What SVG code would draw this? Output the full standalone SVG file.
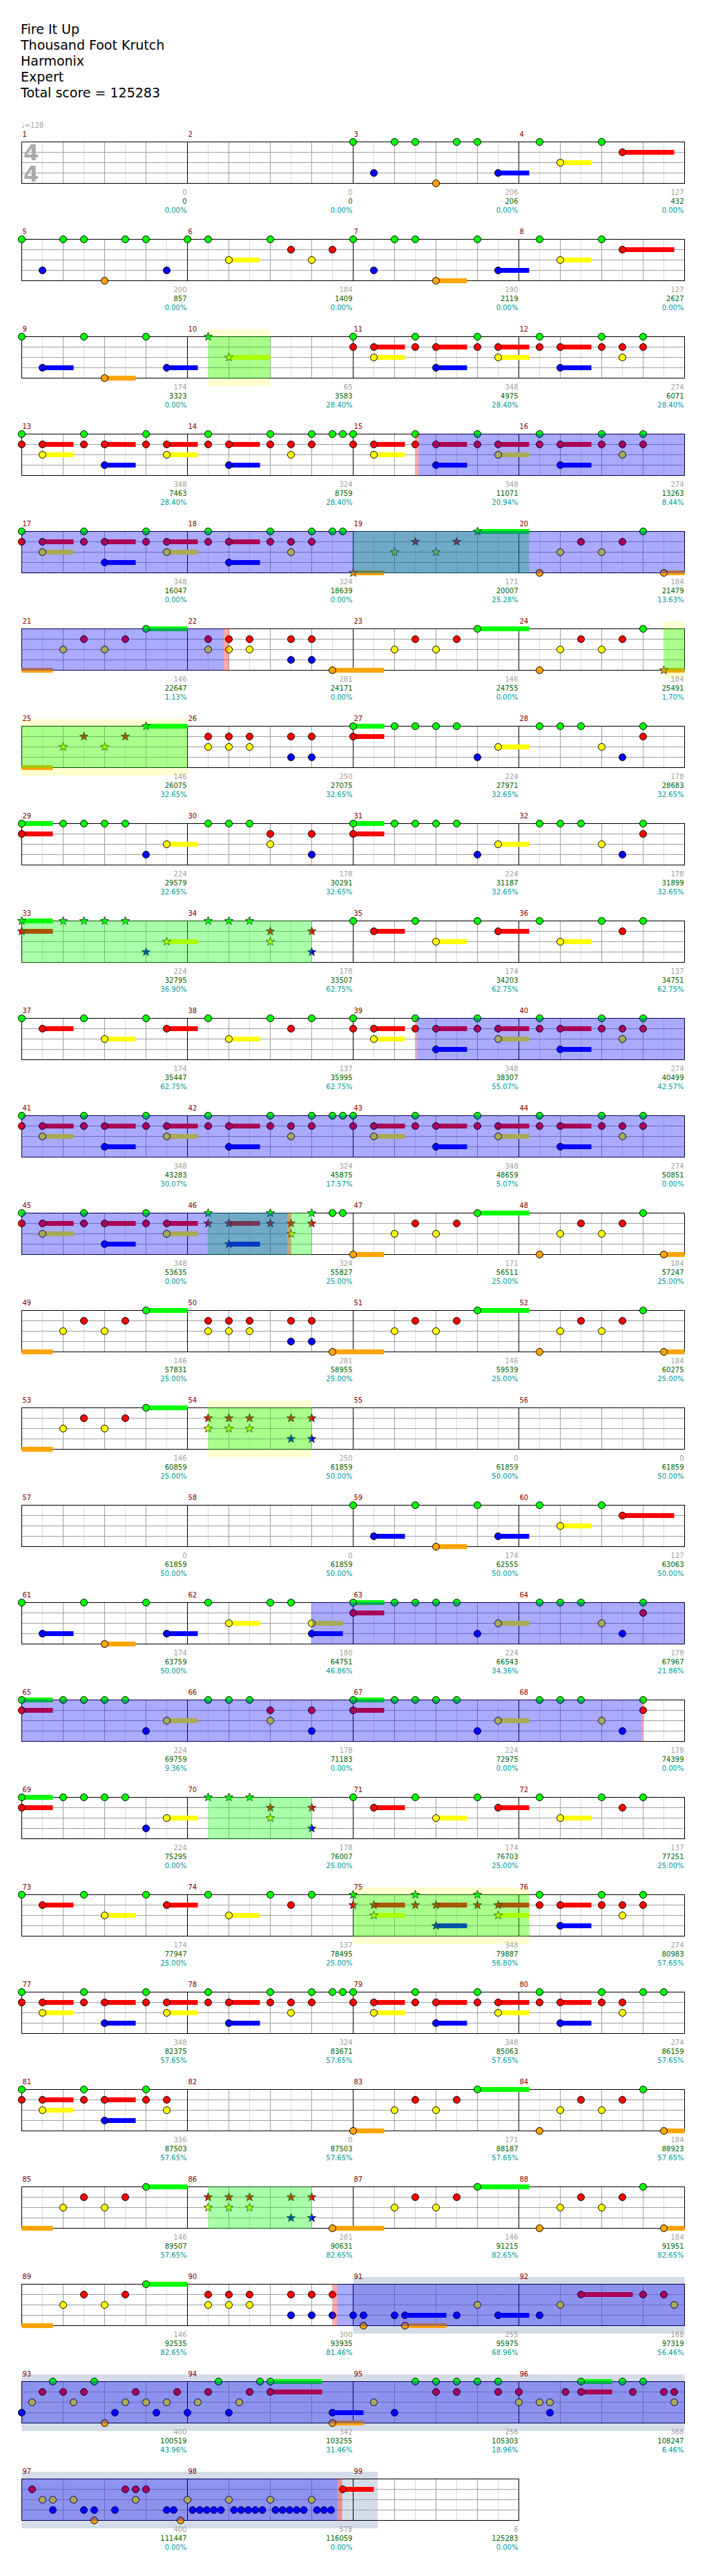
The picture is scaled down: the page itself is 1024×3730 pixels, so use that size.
<svg xmlns="http://www.w3.org/2000/svg" width="1024" height="3730" viewBox="0 0 1024 3730">
<style>
text{font-family:"DejaVu Sans",Verdana,sans-serif}
.t text{font-size:19px;fill:#000}
.tempo{font-size:10px;fill:#a0a0a0}
.ts{font-size:32px;font-weight:bold;fill:#aaa}
.mn{font-size:10px;fill:#800000}
.lb{font-size:10px;text-anchor:end}
.l1{fill:#a0a0a0}.l2{fill:#006400}.l3{fill:#009999}
circle{stroke:#000;stroke-width:1}
.g{fill:#00ff00}.r{fill:#ff0000}.y{fill:#ffff00}.b{fill:#0000ff}.o{fill:#ffa500}
.s{fill:none;stroke-width:7}
.SG{stroke:#00ff00}.SR{stroke:#ff0000}.SY{stroke:#ffff00}.SB{stroke:#0000ff}.SO{stroke:#ffa500}
.lt{stroke:#dcdcdc;fill:none}.dk{stroke:#a0a0a0;fill:none}.bk{stroke:#000;fill:none}
.sp{fill:#00ff00;fill-opacity:.333}.od{fill:#0000ff;fill-opacity:.333}.sx{fill:#ff0000;fill-opacity:.333}
.yb{fill:#ffffd0}.gb{fill:#d4dce8}
</style>
<defs>
<path id="st" d="M0-6.5L1.53-2.1L6.18-2.01L2.47.8L3.82 5.26L0 2.6L-3.82 5.26L-2.47.8L-6.18-2.01L-1.53-2.1Z" stroke="#000" stroke-width=".7"/>
<g id="grid4">
<path class="lt" d="M61.5 0V60M121.5 0V60M181.5 0V60M241.5 0V60M301.5 0V60M361.5 0V60M421.5 0V60M481.5 0V60M541.5 0V60M601.5 0V60M661.5 0V60M721.5 0V60M781.5 0V60M841.5 0V60M901.5 0V60M961.5 0V60"/>
<path class="dk" d="M91.5 0V60M151.5 0V60M211.5 0V60M331.5 0V60M391.5 0V60M451.5 0V60M571.5 0V60M631.5 0V60M691.5 0V60M811.5 0V60M871.5 0V60M931.5 0V60M31.5 15H991.5M31.5 30H991.5M31.5 45H991.5"/>
<path class="bk" d="M271.5 0V60M511.5 0V60M751.5 0V60"/>
<rect class="bk" x="31.5" y="0" width="960" height="60"/>
</g>
<g id="grid3">
<path class="lt" d="M61.5 0V60M121.5 0V60M181.5 0V60M241.5 0V60M301.5 0V60M361.5 0V60M421.5 0V60M481.5 0V60M541.5 0V60M601.5 0V60M661.5 0V60M721.5 0V60"/>
<path class="dk" d="M91.5 0V60M151.5 0V60M211.5 0V60M331.5 0V60M391.5 0V60M451.5 0V60M571.5 0V60M631.5 0V60M691.5 0V60M31.5 15H751.5M31.5 30H751.5M31.5 45H751.5"/>
<path class="bk" d="M271.5 0V60M511.5 0V60"/>
<rect class="bk" x="31.5" y="0" width="720" height="60"/>
</g>
<g id="P13">
<path class="s SR" d="M30 15h45M120 15h45M210 15h45"/><path class="s SY" d="M30 30h45M210 30h45"/><path class="s SB" d="M120 45h45"/>
<circle class="g" cx="0" cy="0" r="5"/><circle class="g" cx="90" cy="0" r="5"/><circle class="g" cx="180" cy="0" r="5"/>
<circle class="r" cx="0" cy="15" r="5"/><circle class="r" cx="30" cy="15" r="5"/><circle class="r" cx="90" cy="15" r="5"/><circle class="r" cx="120" cy="15" r="5"/><circle class="r" cx="180" cy="15" r="5"/><circle class="r" cx="210" cy="15" r="5"/>
<circle class="y" cx="30" cy="30" r="5"/><circle class="y" cx="210" cy="30" r="5"/>
<circle class="b" cx="120" cy="45" r="5"/>
</g>
<g id="P13s">
<path class="s SR" d="M30 15h45M120 15h45M210 15h45"/><path class="s SY" d="M30 30h45M210 30h45"/><path class="s SB" d="M120 45h45"/>
<use href="#st" class="g" x="0" y="0"/><use href="#st" class="g" x="90" y="0"/><use href="#st" class="g" x="180" y="0"/>
<use href="#st" class="r" x="0" y="15"/><use href="#st" class="r" x="30" y="15"/><use href="#st" class="r" x="90" y="15"/><use href="#st" class="r" x="120" y="15"/><use href="#st" class="r" x="180" y="15"/><use href="#st" class="r" x="210" y="15"/>
<use href="#st" class="y" x="30" y="30"/><use href="#st" class="y" x="210" y="30"/>
<use href="#st" class="b" x="120" y="45"/>
</g>
<g id="P12">
<path class="s SR" d="M60 15h45"/><path class="s SB" d="M60 45h45"/>
<circle class="g" cx="30" cy="0" r="5"/><circle class="g" cx="120" cy="0" r="5"/><circle class="g" cx="180" cy="0" r="5"/>
<circle class="r" cx="30" cy="15" r="5"/><circle class="r" cx="60" cy="15" r="5"/><circle class="r" cx="120" cy="15" r="5"/><circle class="r" cx="150" cy="15" r="5"/><circle class="r" cx="180" cy="15" r="5"/>
<circle class="y" cx="150" cy="30" r="5"/>
<circle class="b" cx="60" cy="45" r="5"/>
</g>
<g id="P14"><use href="#P12"/><circle class="g" cx="210" cy="0" r="5"/><circle class="g" cx="225" cy="0" r="5"/></g>
<g id="PA">
<path class="s SG" d="M0 0h45"/><path class="s SR" d="M0 15h45"/><path class="s SY" d="M210 30h45"/>
<circle class="g" cx="0" cy="0" r="5"/><circle class="g" cx="60" cy="0" r="5"/><circle class="g" cx="90" cy="0" r="5"/><circle class="g" cx="120" cy="0" r="5"/><circle class="g" cx="150" cy="0" r="5"/>
<circle class="r" cx="0" cy="15" r="5"/><circle class="b" cx="180" cy="45" r="5"/><circle class="y" cx="210" cy="30" r="5"/>
</g>
<g id="PAs">
<path class="s SG" d="M0 0h45"/><path class="s SR" d="M0 15h45"/><path class="s SY" d="M210 30h45"/>
<use href="#st" class="g" x="0" y="0"/><use href="#st" class="g" x="60" y="0"/><use href="#st" class="g" x="90" y="0"/><use href="#st" class="g" x="120" y="0"/><use href="#st" class="g" x="150" y="0"/>
<use href="#st" class="r" x="0" y="15"/><use href="#st" class="b" x="180" y="45"/><use href="#st" class="y" x="210" y="30"/>
</g>
<g id="PB">
<circle class="g" cx="30" cy="0" r="5"/><circle class="g" cx="60" cy="0" r="5"/><circle class="g" cx="90" cy="0" r="5"/>
<circle class="r" cx="120" cy="15" r="5"/><circle class="y" cx="120" cy="30" r="5"/><circle class="r" cx="180" cy="15" r="5"/><circle class="b" cx="180" cy="45" r="5"/>
</g>
<g id="PBs">
<use href="#st" class="g" x="30" y="0"/><use href="#st" class="g" x="60" y="0"/><use href="#st" class="g" x="90" y="0"/>
<use href="#st" class="r" x="120" y="15"/><use href="#st" class="y" x="120" y="30"/><use href="#st" class="r" x="180" y="15"/><use href="#st" class="b" x="180" y="45"/>
</g>
<g id="PC">
<circle class="g" cx="30" cy="0" r="5"/><circle class="g" cx="60" cy="0" r="5"/><circle class="g" cx="90" cy="0" r="5"/><circle class="g" cx="180" cy="0" r="5"/>
<circle class="r" cx="180" cy="15" r="5"/><circle class="y" cx="120" cy="30" r="5"/><circle class="b" cx="150" cy="45" r="5"/>
</g>
<g id="PD">
<path class="s SR" d="M30 15h45M210 15h45"/><path class="s SY" d="M120 30h45"/>
<circle class="g" cx="0" cy="0" r="5"/><circle class="g" cx="90" cy="0" r="5"/><circle class="g" cx="180" cy="0" r="5"/>
<circle class="r" cx="30" cy="15" r="5"/><circle class="r" cx="210" cy="15" r="5"/><circle class="y" cx="120" cy="30" r="5"/>
</g>
<g id="PE">
<path class="s SY" d="M60 30h45"/>
<circle class="g" cx="30" cy="0" r="5"/><circle class="g" cx="120" cy="0" r="5"/><circle class="g" cx="180" cy="0" r="5"/>
<circle class="y" cx="60" cy="30" r="5"/><circle class="r" cx="150" cy="15" r="5"/>
</g>
<g id="PF">
<path class="s SO" d="M0 60h45"/><path class="s SG" d="M180 0h60"/>
<circle class="y" cx="60" cy="30" r="5"/><circle class="r" cx="90" cy="15" r="5"/><circle class="y" cx="120" cy="30" r="5"/><circle class="r" cx="150" cy="15" r="5"/><circle class="g" cx="180" cy="0" r="5"/>
</g>
<g id="PG">
<circle class="r" cx="30" cy="15" r="5"/><circle class="r" cx="60" cy="15" r="5"/><circle class="r" cx="90" cy="15" r="5"/><circle class="r" cx="150" cy="15" r="5"/><circle class="r" cx="180" cy="15" r="5"/>
<circle class="y" cx="30" cy="30" r="5"/><circle class="y" cx="60" cy="30" r="5"/><circle class="y" cx="90" cy="30" r="5"/>
<circle class="b" cx="150" cy="45" r="5"/><circle class="b" cx="180" cy="45" r="5"/>
</g>
<g id="PGs">
<use href="#st" class="r" x="30" y="15"/><use href="#st" class="r" x="60" y="15"/><use href="#st" class="r" x="90" y="15"/><use href="#st" class="r" x="150" y="15"/><use href="#st" class="r" x="180" y="15"/>
<use href="#st" class="y" x="30" y="30"/><use href="#st" class="y" x="60" y="30"/><use href="#st" class="y" x="90" y="30"/>
<use href="#st" class="b" x="150" y="45"/><use href="#st" class="b" x="180" y="45"/>
</g>
<g id="PGo"><path class="s SO" d="M210 60h75"/><use href="#PG"/><circle class="o" cx="210" cy="60" r="5"/></g>
<g id="PH">
<path class="s SG" d="M180 0h75"/>
<circle class="y" cx="60" cy="30" r="5"/><circle class="r" cx="90" cy="15" r="5"/><circle class="y" cx="120" cy="30" r="5"/><circle class="r" cx="150" cy="15" r="5"/><circle class="g" cx="180" cy="0" r="5"/>
</g>
<g id="PHo"><path class="s SO" d="M0 60h45"/><use href="#PH"/><circle class="o" cx="0" cy="60" r="5"/></g>
<g id="PI">
<path class="s SO" d="M210 60h30"/>
<circle class="o" cx="30" cy="60" r="5"/><circle class="y" cx="60" cy="30" r="5"/><circle class="r" cx="90" cy="15" r="5"/><circle class="y" cx="120" cy="30" r="5"/><circle class="r" cx="150" cy="15" r="5"/><circle class="g" cx="180" cy="0" r="5"/><circle class="o" cx="210" cy="60" r="5"/>
</g>
<g id="M9">
<path class="s SB" d="M30 45h45M210 45h45"/><path class="s SO" d="M120 60h45"/>
<circle class="g" cx="0" cy="0" r="5"/><circle class="g" cx="90" cy="0" r="5"/><circle class="g" cx="180" cy="0" r="5"/>
<circle class="b" cx="30" cy="45" r="5"/><circle class="o" cx="120" cy="60" r="5"/><circle class="b" cx="210" cy="45" r="5"/>
</g>
<g id="M4">
<path class="s SY" d="M60 30h45"/><path class="s SR" d="M150 15h75"/>
<circle class="g" cx="30" cy="0" r="5"/><circle class="g" cx="120" cy="0" r="5"/><circle class="y" cx="60" cy="30" r="5"/><circle class="r" cx="150" cy="15" r="5"/>
</g>
</defs>
<rect width="1024" height="3730" fill="#fff"/>
<g id="header" class="t">
<text x="30" y="49">Fire It Up</text>
<text x="30" y="72">Thousand Foot Krutch</text>
<text x="30" y="95">Harmonix</text>
<text x="30" y="118">Expert</text>
<text x="30" y="141">Total score = 125283</text>
</g>
<text class="tempo" x="31" y="185">♩=128</text>

<g id="row1" transform="translate(0,205.5)">
<use href="#grid4"/>
<text class="ts" x="34" y="26.5">4<tspan x="34" y="57">4</tspan></text>
<g transform="translate(511.5,0)"><path class="s SB" d="M210 45h45"/>
<circle class="g" cx="0" cy="0" r="5"/><circle class="g" cx="60" cy="0" r="5"/><circle class="g" cx="90" cy="0" r="5"/><circle class="g" cx="150" cy="0" r="5"/><circle class="g" cx="180" cy="0" r="5"/>
<circle class="b" cx="30" cy="45" r="5"/><circle class="o" cx="120" cy="60" r="5"/><circle class="b" cx="210" cy="45" r="5"/></g>
<use href="#M4" x="751.5"/>
<text class="mn" x="32.5" y="-8">1</text><text class="mn" x="272.5" y="-8">2</text><text class="mn" x="512.5" y="-8">3</text><text class="mn" x="752.5" y="-8">4</text>
<text class="lb" x="270.5" y="76"><tspan class="l1">0</tspan><tspan class="l2" x="270.5" dy="13">0</tspan><tspan class="l3" x="270.5" dy="13">0.00%</tspan></text>
<text class="lb" x="510.5" y="76"><tspan class="l1">0</tspan><tspan class="l2" x="510.5" dy="13">0</tspan><tspan class="l3" x="510.5" dy="13">0.00%</tspan></text>
<text class="lb" x="750.5" y="76"><tspan class="l1">206</tspan><tspan class="l2" x="750.5" dy="13">206</tspan><tspan class="l3" x="750.5" dy="13">0.00%</tspan></text>
<text class="lb" x="990.5" y="76"><tspan class="l1">127</tspan><tspan class="l2" x="990.5" dy="13">432</tspan><tspan class="l3" x="990.5" dy="13">0.00%</tspan></text>
</g>

<g id="row2" transform="translate(0,346.5)">
<use href="#grid4"/>
<g transform="translate(31.5,0)">
<circle class="g" cx="0" cy="0" r="5"/><circle class="g" cx="60" cy="0" r="5"/><circle class="g" cx="90" cy="0" r="5"/><circle class="g" cx="150" cy="0" r="5"/><circle class="g" cx="180" cy="0" r="5"/>
<circle class="b" cx="30" cy="45" r="5"/><circle class="o" cx="120" cy="60" r="5"/><circle class="b" cx="210" cy="45" r="5"/></g>
<g transform="translate(271.5,0)"><path class="s SY" d="M60 30h45"/>
<circle class="g" cx="0" cy="0" r="5"/><circle class="g" cx="30" cy="0" r="5"/><circle class="g" cx="120" cy="0" r="5"/>
<circle class="y" cx="60" cy="30" r="5"/><circle class="r" cx="150" cy="15" r="5"/><circle class="y" cx="180" cy="30" r="5"/><circle class="r" cx="210" cy="15" r="5"/></g>
<g transform="translate(511.5,0)"><path class="s SO" d="M120 60h45"/><path class="s SB" d="M210 45h45"/>
<circle class="g" cx="0" cy="0" r="5"/><circle class="g" cx="60" cy="0" r="5"/><circle class="g" cx="90" cy="0" r="5"/><circle class="g" cx="180" cy="0" r="5"/>
<circle class="b" cx="30" cy="45" r="5"/><circle class="o" cx="120" cy="60" r="5"/><circle class="b" cx="210" cy="45" r="5"/></g>
<use href="#M4" x="751.5"/>
<text class="mn" x="32.5" y="-8">5</text><text class="mn" x="272.5" y="-8">6</text><text class="mn" x="512.5" y="-8">7</text><text class="mn" x="752.5" y="-8">8</text>
<text class="lb" x="270.5" y="76"><tspan class="l1">200</tspan><tspan class="l2" x="270.5" dy="13">857</tspan><tspan class="l3" x="270.5" dy="13">0.00%</tspan></text>
<text class="lb" x="510.5" y="76"><tspan class="l1">184</tspan><tspan class="l2" x="510.5" dy="13">1409</tspan><tspan class="l3" x="510.5" dy="13">0.00%</tspan></text>
<text class="lb" x="750.5" y="76"><tspan class="l1">190</tspan><tspan class="l2" x="750.5" dy="13">2119</tspan><tspan class="l3" x="750.5" dy="13">0.00%</tspan></text>
<text class="lb" x="990.5" y="76"><tspan class="l1">127</tspan><tspan class="l2" x="990.5" dy="13">2627</tspan><tspan class="l3" x="990.5" dy="13">0.00%</tspan></text>
</g>

<g id="row3" transform="translate(0,487.5)">
<rect class="yb" x="301.5" y="-10.5" width="90" height="82"/>
<use href="#grid4"/>
<use href="#M9" x="31.5"/>
<g transform="translate(271.5,0)"><path class="s SY" d="M60 30h60"/><use href="#st" class="g" x="30" y="0"/><use href="#st" class="y" x="60" y="30"/></g>
<use href="#P13" x="511.5"/><use href="#P12" x="751.5"/>
<rect class="sp" x="301.5" y="-.5" width="90" height="61"/>
<text class="mn" x="32.5" y="-8">9</text><text class="mn" x="272.5" y="-8">10</text><text class="mn" x="512.5" y="-8">11</text><text class="mn" x="752.5" y="-8">12</text>
<text class="lb" x="270.5" y="76"><tspan class="l1">174</tspan><tspan class="l2" x="270.5" dy="13">3323</tspan><tspan class="l3" x="270.5" dy="13">0.00%</tspan></text>
<text class="lb" x="510.5" y="76"><tspan class="l1">65</tspan><tspan class="l2" x="510.5" dy="13">3583</tspan><tspan class="l3" x="510.5" dy="13">28.40%</tspan></text>
<text class="lb" x="750.5" y="76"><tspan class="l1">348</tspan><tspan class="l2" x="750.5" dy="13">4975</tspan><tspan class="l3" x="750.5" dy="13">28.40%</tspan></text>
<text class="lb" x="990.5" y="76"><tspan class="l1">274</tspan><tspan class="l2" x="990.5" dy="13">6071</tspan><tspan class="l3" x="990.5" dy="13">28.40%</tspan></text>
</g>

<g id="row4" transform="translate(0,628.5)">
<use href="#grid4"/>
<use href="#P13" x="31.5"/><use href="#P14" x="271.5"/><use href="#P13" x="511.5"/><use href="#P12" x="751.5"/>
<rect class="sx" x="601.5" y="-.5" width="5" height="61"/><rect class="od" x="606.5" y="-.5" width="385" height="61"/>
<text class="mn" x="32.5" y="-8">13</text><text class="mn" x="272.5" y="-8">14</text><text class="mn" x="512.5" y="-8">15</text><text class="mn" x="752.5" y="-8">16</text>
<text class="lb" x="270.5" y="76"><tspan class="l1">348</tspan><tspan class="l2" x="270.5" dy="13">7463</tspan><tspan class="l3" x="270.5" dy="13">28.40%</tspan></text>
<text class="lb" x="510.5" y="76"><tspan class="l1">324</tspan><tspan class="l2" x="510.5" dy="13">8759</tspan><tspan class="l3" x="510.5" dy="13">28.40%</tspan></text>
<text class="lb" x="750.5" y="76"><tspan class="l1">348</tspan><tspan class="l2" x="750.5" dy="13">11071</tspan><tspan class="l3" x="750.5" dy="13">20.94%</tspan></text>
<text class="lb" x="990.5" y="76"><tspan class="l1">274</tspan><tspan class="l2" x="990.5" dy="13">13263</tspan><tspan class="l3" x="990.5" dy="13">8.44%</tspan></text>
</g>

<g id="row5" transform="translate(0,769.5)">
<use href="#grid4"/>
<use href="#P13" x="31.5"/><use href="#P14" x="271.5"/>
<g transform="translate(511.5,0)"><path class="s SO" d="M0 60h45"/><path class="s SG" d="M180 0h75"/>
<use href="#st" class="o" x="0" y="60"/><use href="#st" class="y" x="60" y="30"/><use href="#st" class="r" x="90" y="15"/><use href="#st" class="y" x="120" y="30"/><use href="#st" class="r" x="150" y="15"/><use href="#st" class="g" x="180" y="0"/></g>
<use href="#PI" x="751.5"/>
<rect class="sp" x="511.5" y="-.5" width="255" height="61"/><rect class="od" x="31.5" y="-.5" width="960" height="61"/>
<text class="mn" x="32.5" y="-8">17</text><text class="mn" x="272.5" y="-8">18</text><text class="mn" x="512.5" y="-8">19</text><text class="mn" x="752.5" y="-8">20</text>
<text class="lb" x="270.5" y="76"><tspan class="l1">348</tspan><tspan class="l2" x="270.5" dy="13">16047</tspan><tspan class="l3" x="270.5" dy="13">0.00%</tspan></text>
<text class="lb" x="510.5" y="76"><tspan class="l1">324</tspan><tspan class="l2" x="510.5" dy="13">18639</tspan><tspan class="l3" x="510.5" dy="13">0.00%</tspan></text>
<text class="lb" x="750.5" y="76"><tspan class="l1">171</tspan><tspan class="l2" x="750.5" dy="13">20007</tspan><tspan class="l3" x="750.5" dy="13">25.28%</tspan></text>
<text class="lb" x="990.5" y="76"><tspan class="l1">184</tspan><tspan class="l2" x="990.5" dy="13">21479</tspan><tspan class="l3" x="990.5" dy="13">13.63%</tspan></text>
</g>

<g id="row6" transform="translate(0,910.5)">
<rect class="yb" x="961.5" y="-10.5" width="30" height="82"/>
<use href="#grid4"/>
<use href="#PF" x="31.5"/><use href="#PGo" x="271.5"/><use href="#PH" x="511.5"/>
<g transform="translate(751.5,0)"><path class="s SO" d="M210 60h30"/>
<circle class="o" cx="30" cy="60" r="5"/><circle class="y" cx="60" cy="30" r="5"/><circle class="r" cx="90" cy="15" r="5"/><circle class="y" cx="120" cy="30" r="5"/><circle class="r" cx="150" cy="15" r="5"/><circle class="g" cx="180" cy="0" r="5"/><use href="#st" class="o" x="210" y="60"/></g>
<rect class="od" x="31.5" y="-.5" width="292.5" height="61"/><rect class="sx" x="324" y="-.5" width="7.5" height="61"/><rect class="sp" x="961.5" y="-.5" width="30" height="61"/>
<text class="mn" x="32.5" y="-8">21</text><text class="mn" x="272.5" y="-8">22</text><text class="mn" x="512.5" y="-8">23</text><text class="mn" x="752.5" y="-8">24</text>
<text class="lb" x="270.5" y="76"><tspan class="l1">146</tspan><tspan class="l2" x="270.5" dy="13">22647</tspan><tspan class="l3" x="270.5" dy="13">1.13%</tspan></text>
<text class="lb" x="510.5" y="76"><tspan class="l1">281</tspan><tspan class="l2" x="510.5" dy="13">24171</tspan><tspan class="l3" x="510.5" dy="13">0.00%</tspan></text>
<text class="lb" x="750.5" y="76"><tspan class="l1">146</tspan><tspan class="l2" x="750.5" dy="13">24755</tspan><tspan class="l3" x="750.5" dy="13">0.00%</tspan></text>
<text class="lb" x="990.5" y="76"><tspan class="l1">184</tspan><tspan class="l2" x="990.5" dy="13">25491</tspan><tspan class="l3" x="990.5" dy="13">1.70%</tspan></text>
</g>

<g id="row7" transform="translate(0,1051.5)">
<rect class="yb" x="31.5" y="-10.5" width="240" height="82"/>
<use href="#grid4"/>
<g transform="translate(31.5,0)"><path class="s SO" d="M0 60h45"/><path class="s SG" d="M180 0h60"/>
<use href="#st" class="y" x="60" y="30"/><use href="#st" class="r" x="90" y="15"/><use href="#st" class="y" x="120" y="30"/><use href="#st" class="r" x="150" y="15"/><use href="#st" class="g" x="180" y="0"/></g>
<use href="#PG" x="271.5"/><use href="#PA" x="511.5"/><use href="#PC" x="751.5"/>
<rect class="sp" x="31.5" y="-.5" width="240" height="61"/>
<text class="mn" x="32.5" y="-8">25</text><text class="mn" x="272.5" y="-8">26</text><text class="mn" x="512.5" y="-8">27</text><text class="mn" x="752.5" y="-8">28</text>
<text class="lb" x="270.5" y="76"><tspan class="l1">146</tspan><tspan class="l2" x="270.5" dy="13">26075</tspan><tspan class="l3" x="270.5" dy="13">32.65%</tspan></text>
<text class="lb" x="510.5" y="76"><tspan class="l1">250</tspan><tspan class="l2" x="510.5" dy="13">27075</tspan><tspan class="l3" x="510.5" dy="13">32.65%</tspan></text>
<text class="lb" x="750.5" y="76"><tspan class="l1">224</tspan><tspan class="l2" x="750.5" dy="13">27971</tspan><tspan class="l3" x="750.5" dy="13">32.65%</tspan></text>
<text class="lb" x="990.5" y="76"><tspan class="l1">178</tspan><tspan class="l2" x="990.5" dy="13">28683</tspan><tspan class="l3" x="990.5" dy="13">32.65%</tspan></text>
</g>

<g id="row8" transform="translate(0,1192.5)">
<use href="#grid4"/>
<use href="#PA" x="31.5"/><use href="#PB" x="271.5"/><use href="#PA" x="511.5"/><use href="#PC" x="751.5"/>
<text class="mn" x="32.5" y="-8">29</text><text class="mn" x="272.5" y="-8">30</text><text class="mn" x="512.5" y="-8">31</text><text class="mn" x="752.5" y="-8">32</text>
<text class="lb" x="270.5" y="76"><tspan class="l1">224</tspan><tspan class="l2" x="270.5" dy="13">29579</tspan><tspan class="l3" x="270.5" dy="13">32.65%</tspan></text>
<text class="lb" x="510.5" y="76"><tspan class="l1">178</tspan><tspan class="l2" x="510.5" dy="13">30291</tspan><tspan class="l3" x="510.5" dy="13">32.65%</tspan></text>
<text class="lb" x="750.5" y="76"><tspan class="l1">224</tspan><tspan class="l2" x="750.5" dy="13">31187</tspan><tspan class="l3" x="750.5" dy="13">32.65%</tspan></text>
<text class="lb" x="990.5" y="76"><tspan class="l1">178</tspan><tspan class="l2" x="990.5" dy="13">31899</tspan><tspan class="l3" x="990.5" dy="13">32.65%</tspan></text>
</g>

<g id="row9" transform="translate(0,1333.5)">
<use href="#grid4"/>
<use href="#PAs" x="31.5"/><use href="#PBs" x="271.5"/><use href="#PD" x="511.5"/><use href="#PE" x="751.5"/>
<rect class="sp" x="31.5" y="-.5" width="420" height="61"/>
<text class="mn" x="32.5" y="-8">33</text><text class="mn" x="272.5" y="-8">34</text><text class="mn" x="512.5" y="-8">35</text><text class="mn" x="752.5" y="-8">36</text>
<text class="lb" x="270.5" y="76"><tspan class="l1">224</tspan><tspan class="l2" x="270.5" dy="13">32795</tspan><tspan class="l3" x="270.5" dy="13">36.90%</tspan></text>
<text class="lb" x="510.5" y="76"><tspan class="l1">178</tspan><tspan class="l2" x="510.5" dy="13">33507</tspan><tspan class="l3" x="510.5" dy="13">62.75%</tspan></text>
<text class="lb" x="750.5" y="76"><tspan class="l1">174</tspan><tspan class="l2" x="750.5" dy="13">34203</tspan><tspan class="l3" x="750.5" dy="13">62.75%</tspan></text>
<text class="lb" x="990.5" y="76"><tspan class="l1">137</tspan><tspan class="l2" x="990.5" dy="13">34751</tspan><tspan class="l3" x="990.5" dy="13">62.75%</tspan></text>
</g>

<g id="row10" transform="translate(0,1474.5)">
<use href="#grid4"/>
<use href="#PD" x="31.5"/><use href="#PE" x="271.5"/><use href="#P13" x="511.5"/><use href="#P12" x="751.5"/>
<rect class="sx" x="601.5" y="-.5" width="2" height="61"/><rect class="od" x="603.5" y="-.5" width="388" height="61"/>
<text class="mn" x="32.5" y="-8">37</text><text class="mn" x="272.5" y="-8">38</text><text class="mn" x="512.5" y="-8">39</text><text class="mn" x="752.5" y="-8">40</text>
<text class="lb" x="270.5" y="76"><tspan class="l1">174</tspan><tspan class="l2" x="270.5" dy="13">35447</tspan><tspan class="l3" x="270.5" dy="13">62.75%</tspan></text>
<text class="lb" x="510.5" y="76"><tspan class="l1">137</tspan><tspan class="l2" x="510.5" dy="13">35995</tspan><tspan class="l3" x="510.5" dy="13">62.75%</tspan></text>
<text class="lb" x="750.5" y="76"><tspan class="l1">348</tspan><tspan class="l2" x="750.5" dy="13">38307</tspan><tspan class="l3" x="750.5" dy="13">55.07%</tspan></text>
<text class="lb" x="990.5" y="76"><tspan class="l1">274</tspan><tspan class="l2" x="990.5" dy="13">40499</tspan><tspan class="l3" x="990.5" dy="13">42.57%</tspan></text>
</g>

<g id="row11" transform="translate(0,1615.5)">
<use href="#grid4"/>
<use href="#P13" x="31.5"/><use href="#P14" x="271.5"/><use href="#P13" x="511.5"/><use href="#P12" x="751.5"/>
<rect class="od" x="31.5" y="-.5" width="960" height="61"/>
<text class="mn" x="32.5" y="-8">41</text><text class="mn" x="272.5" y="-8">42</text><text class="mn" x="512.5" y="-8">43</text><text class="mn" x="752.5" y="-8">44</text>
<text class="lb" x="270.5" y="76"><tspan class="l1">348</tspan><tspan class="l2" x="270.5" dy="13">43283</tspan><tspan class="l3" x="270.5" dy="13">30.07%</tspan></text>
<text class="lb" x="510.5" y="76"><tspan class="l1">324</tspan><tspan class="l2" x="510.5" dy="13">45875</tspan><tspan class="l3" x="510.5" dy="13">17.57%</tspan></text>
<text class="lb" x="750.5" y="76"><tspan class="l1">348</tspan><tspan class="l2" x="750.5" dy="13">48659</tspan><tspan class="l3" x="750.5" dy="13">5.07%</tspan></text>
<text class="lb" x="990.5" y="76"><tspan class="l1">274</tspan><tspan class="l2" x="990.5" dy="13">50851</tspan><tspan class="l3" x="990.5" dy="13">0.00%</tspan></text>
</g>

<g id="row12" transform="translate(0,1756.5)">
<use href="#grid4"/>
<use href="#P13" x="31.5"/>
<g transform="translate(271.5,0)"><path class="s SR" d="M60 15h45"/><path class="s SB" d="M60 45h45"/>
<use href="#st" class="g" x="30" y="0"/><use href="#st" class="g" x="120" y="0"/><use href="#st" class="g" x="180" y="0"/>
<use href="#st" class="r" x="30" y="15"/><use href="#st" class="r" x="60" y="15"/><use href="#st" class="r" x="120" y="15"/><use href="#st" class="r" x="150" y="15"/><use href="#st" class="r" x="180" y="15"/>
<use href="#st" class="y" x="150" y="30"/><use href="#st" class="b" x="60" y="45"/>
<circle class="g" cx="210" cy="0" r="5"/><circle class="g" cx="225" cy="0" r="5"/></g>
<use href="#PHo" x="511.5"/><use href="#PI" x="751.5"/>
<rect class="sp" x="301.5" y="-.5" width="150" height="61"/><rect class="od" x="31.5" y="-.5" width="385" height="61"/><rect class="sx" x="416.5" y="-.5" width="5" height="61"/>
<text class="mn" x="32.5" y="-8">45</text><text class="mn" x="272.5" y="-8">46</text><text class="mn" x="512.5" y="-8">47</text><text class="mn" x="752.5" y="-8">48</text>
<text class="lb" x="270.5" y="76"><tspan class="l1">348</tspan><tspan class="l2" x="270.5" dy="13">53635</tspan><tspan class="l3" x="270.5" dy="13">0.00%</tspan></text>
<text class="lb" x="510.5" y="76"><tspan class="l1">324</tspan><tspan class="l2" x="510.5" dy="13">55827</tspan><tspan class="l3" x="510.5" dy="13">25.00%</tspan></text>
<text class="lb" x="750.5" y="76"><tspan class="l1">171</tspan><tspan class="l2" x="750.5" dy="13">56511</tspan><tspan class="l3" x="750.5" dy="13">25.00%</tspan></text>
<text class="lb" x="990.5" y="76"><tspan class="l1">184</tspan><tspan class="l2" x="990.5" dy="13">57247</tspan><tspan class="l3" x="990.5" dy="13">25.00%</tspan></text>
</g>

<g id="row13" transform="translate(0,1897.5)">
<use href="#grid4"/>
<use href="#PF" x="31.5"/><use href="#PGo" x="271.5"/><use href="#PH" x="511.5"/><use href="#PI" x="751.5"/>
<text class="mn" x="32.5" y="-8">49</text><text class="mn" x="272.5" y="-8">50</text><text class="mn" x="512.5" y="-8">51</text><text class="mn" x="752.5" y="-8">52</text>
<text class="lb" x="270.5" y="76"><tspan class="l1">146</tspan><tspan class="l2" x="270.5" dy="13">57831</tspan><tspan class="l3" x="270.5" dy="13">25.00%</tspan></text>
<text class="lb" x="510.5" y="76"><tspan class="l1">281</tspan><tspan class="l2" x="510.5" dy="13">58955</tspan><tspan class="l3" x="510.5" dy="13">25.00%</tspan></text>
<text class="lb" x="750.5" y="76"><tspan class="l1">146</tspan><tspan class="l2" x="750.5" dy="13">59539</tspan><tspan class="l3" x="750.5" dy="13">25.00%</tspan></text>
<text class="lb" x="990.5" y="76"><tspan class="l1">184</tspan><tspan class="l2" x="990.5" dy="13">60275</tspan><tspan class="l3" x="990.5" dy="13">25.00%</tspan></text>
</g>

<g id="row14" transform="translate(0,2038.5)">
<rect class="yb" x="301.5" y="-10.5" width="150" height="82"/>
<use href="#grid4"/>
<use href="#PF" x="31.5"/><use href="#PGs" x="271.5"/>
<rect class="sp" x="301.5" y="-.5" width="150" height="61"/>
<text class="mn" x="32.5" y="-8">53</text><text class="mn" x="272.5" y="-8">54</text><text class="mn" x="512.5" y="-8">55</text><text class="mn" x="752.5" y="-8">56</text>
<text class="lb" x="270.5" y="76"><tspan class="l1">146</tspan><tspan class="l2" x="270.5" dy="13">60859</tspan><tspan class="l3" x="270.5" dy="13">25.00%</tspan></text>
<text class="lb" x="510.5" y="76"><tspan class="l1">250</tspan><tspan class="l2" x="510.5" dy="13">61859</tspan><tspan class="l3" x="510.5" dy="13">50.00%</tspan></text>
<text class="lb" x="750.5" y="76"><tspan class="l1">0</tspan><tspan class="l2" x="750.5" dy="13">61859</tspan><tspan class="l3" x="750.5" dy="13">50.00%</tspan></text>
<text class="lb" x="990.5" y="76"><tspan class="l1">0</tspan><tspan class="l2" x="990.5" dy="13">61859</tspan><tspan class="l3" x="990.5" dy="13">50.00%</tspan></text>
</g>

<g id="row15" transform="translate(0,2179.5)">
<use href="#grid4"/>
<use href="#M9" x="511.5"/><use href="#M4" x="751.5"/>
<text class="mn" x="32.5" y="-8">57</text><text class="mn" x="272.5" y="-8">58</text><text class="mn" x="512.5" y="-8">59</text><text class="mn" x="752.5" y="-8">60</text>
<text class="lb" x="270.5" y="76"><tspan class="l1">0</tspan><tspan class="l2" x="270.5" dy="13">61859</tspan><tspan class="l3" x="270.5" dy="13">50.00%</tspan></text>
<text class="lb" x="510.5" y="76"><tspan class="l1">0</tspan><tspan class="l2" x="510.5" dy="13">61859</tspan><tspan class="l3" x="510.5" dy="13">50.00%</tspan></text>
<text class="lb" x="750.5" y="76"><tspan class="l1">174</tspan><tspan class="l2" x="750.5" dy="13">62555</tspan><tspan class="l3" x="750.5" dy="13">50.00%</tspan></text>
<text class="lb" x="990.5" y="76"><tspan class="l1">127</tspan><tspan class="l2" x="990.5" dy="13">63063</tspan><tspan class="l3" x="990.5" dy="13">50.00%</tspan></text>
</g>

<g id="row16" transform="translate(0,2320.5)">
<use href="#grid4"/>
<use href="#M9" x="31.5"/>
<g transform="translate(271.5,0)"><path class="s SY" d="M60 30h45M180 30h45"/><path class="s SB" d="M180 45h45"/>
<circle class="g" cx="30" cy="0" r="5"/><circle class="g" cx="120" cy="0" r="5"/><circle class="g" cx="150" cy="0" r="5"/>
<circle class="y" cx="60" cy="30" r="5"/><circle class="y" cx="180" cy="30" r="5"/><circle class="b" cx="180" cy="45" r="5"/></g>
<use href="#PA" x="511.5"/><use href="#PC" x="751.5"/>
<rect class="od" x="451.5" y="-.5" width="540" height="61"/>
<text class="mn" x="32.5" y="-8">61</text><text class="mn" x="272.5" y="-8">62</text><text class="mn" x="512.5" y="-8">63</text><text class="mn" x="752.5" y="-8">64</text>
<text class="lb" x="270.5" y="76"><tspan class="l1">174</tspan><tspan class="l2" x="270.5" dy="13">63759</tspan><tspan class="l3" x="270.5" dy="13">50.00%</tspan></text>
<text class="lb" x="510.5" y="76"><tspan class="l1">180</tspan><tspan class="l2" x="510.5" dy="13">64751</tspan><tspan class="l3" x="510.5" dy="13">46.86%</tspan></text>
<text class="lb" x="750.5" y="76"><tspan class="l1">224</tspan><tspan class="l2" x="750.5" dy="13">66543</tspan><tspan class="l3" x="750.5" dy="13">34.36%</tspan></text>
<text class="lb" x="990.5" y="76"><tspan class="l1">178</tspan><tspan class="l2" x="990.5" dy="13">67967</tspan><tspan class="l3" x="990.5" dy="13">21.86%</tspan></text>
</g>

<g id="row17" transform="translate(0,2461.5)">
<use href="#grid4"/>
<use href="#PA" x="31.5"/><use href="#PB" x="271.5"/><use href="#PA" x="511.5"/><use href="#PC" x="751.5"/>
<rect class="od" x="31.5" y="-.5" width="898" height="61"/><rect class="sx" x="929.5" y="-.5" width="2" height="61"/>
<text class="mn" x="32.5" y="-8">65</text><text class="mn" x="272.5" y="-8">66</text><text class="mn" x="512.5" y="-8">67</text><text class="mn" x="752.5" y="-8">68</text>
<text class="lb" x="270.5" y="76"><tspan class="l1">224</tspan><tspan class="l2" x="270.5" dy="13">69759</tspan><tspan class="l3" x="270.5" dy="13">9.36%</tspan></text>
<text class="lb" x="510.5" y="76"><tspan class="l1">178</tspan><tspan class="l2" x="510.5" dy="13">71183</tspan><tspan class="l3" x="510.5" dy="13">0.00%</tspan></text>
<text class="lb" x="750.5" y="76"><tspan class="l1">224</tspan><tspan class="l2" x="750.5" dy="13">72975</tspan><tspan class="l3" x="750.5" dy="13">0.00%</tspan></text>
<text class="lb" x="990.5" y="76"><tspan class="l1">178</tspan><tspan class="l2" x="990.5" dy="13">74399</tspan><tspan class="l3" x="990.5" dy="13">0.00%</tspan></text>
</g>

<g id="row18" transform="translate(0,2602.5)">
<use href="#grid4"/>
<use href="#PA" x="31.5"/><use href="#PBs" x="271.5"/><use href="#PD" x="511.5"/><use href="#PE" x="751.5"/>
<rect class="sp" x="301.5" y="-.5" width="150" height="61"/>
<text class="mn" x="32.5" y="-8">69</text><text class="mn" x="272.5" y="-8">70</text><text class="mn" x="512.5" y="-8">71</text><text class="mn" x="752.5" y="-8">72</text>
<text class="lb" x="270.5" y="76"><tspan class="l1">224</tspan><tspan class="l2" x="270.5" dy="13">75295</tspan><tspan class="l3" x="270.5" dy="13">0.00%</tspan></text>
<text class="lb" x="510.5" y="76"><tspan class="l1">178</tspan><tspan class="l2" x="510.5" dy="13">76007</tspan><tspan class="l3" x="510.5" dy="13">25.00%</tspan></text>
<text class="lb" x="750.5" y="76"><tspan class="l1">174</tspan><tspan class="l2" x="750.5" dy="13">76703</tspan><tspan class="l3" x="750.5" dy="13">25.00%</tspan></text>
<text class="lb" x="990.5" y="76"><tspan class="l1">137</tspan><tspan class="l2" x="990.5" dy="13">77251</tspan><tspan class="l3" x="990.5" dy="13">25.00%</tspan></text>
</g>

<g id="row19" transform="translate(0,2743.5)">
<rect class="yb" x="511.5" y="-10.5" width="255" height="82"/>
<use href="#grid4"/>
<use href="#PD" x="31.5"/><use href="#PE" x="271.5"/><use href="#P13s" x="511.5"/><use href="#P12" x="751.5"/>
<rect class="sp" x="511.5" y="-.5" width="255" height="61"/>
<text class="mn" x="32.5" y="-8">73</text><text class="mn" x="272.5" y="-8">74</text><text class="mn" x="512.5" y="-8">75</text><text class="mn" x="752.5" y="-8">76</text>
<text class="lb" x="270.5" y="76"><tspan class="l1">174</tspan><tspan class="l2" x="270.5" dy="13">77947</tspan><tspan class="l3" x="270.5" dy="13">25.00%</tspan></text>
<text class="lb" x="510.5" y="76"><tspan class="l1">137</tspan><tspan class="l2" x="510.5" dy="13">78495</tspan><tspan class="l3" x="510.5" dy="13">25.00%</tspan></text>
<text class="lb" x="750.5" y="76"><tspan class="l1">348</tspan><tspan class="l2" x="750.5" dy="13">79887</tspan><tspan class="l3" x="750.5" dy="13">56.80%</tspan></text>
<text class="lb" x="990.5" y="76"><tspan class="l1">274</tspan><tspan class="l2" x="990.5" dy="13">80983</tspan><tspan class="l3" x="990.5" dy="13">57.65%</tspan></text>
</g>

<g id="row20" transform="translate(0,2884.5)">
<use href="#grid4"/>
<use href="#P13" x="31.5"/><use href="#P14" x="271.5"/><use href="#P13" x="511.5"/>
<g transform="translate(751.5,0)"><path class="s SR" d="M60 15h45"/><path class="s SB" d="M60 45h45"/>
<circle class="g" cx="30" cy="0" r="5"/><circle class="g" cx="120" cy="0" r="5"/><circle class="g" cx="180" cy="0" r="5"/><circle class="g" cx="210" cy="0" r="5"/>
<circle class="r" cx="30" cy="15" r="5"/><circle class="r" cx="60" cy="15" r="5"/><circle class="r" cx="120" cy="15" r="5"/><circle class="r" cx="150" cy="15" r="5"/>
<circle class="y" cx="150" cy="30" r="5"/><circle class="b" cx="60" cy="45" r="5"/></g>
<text class="mn" x="32.5" y="-8">77</text><text class="mn" x="272.5" y="-8">78</text><text class="mn" x="512.5" y="-8">79</text><text class="mn" x="752.5" y="-8">80</text>
<text class="lb" x="270.5" y="76"><tspan class="l1">348</tspan><tspan class="l2" x="270.5" dy="13">82375</tspan><tspan class="l3" x="270.5" dy="13">57.65%</tspan></text>
<text class="lb" x="510.5" y="76"><tspan class="l1">324</tspan><tspan class="l2" x="510.5" dy="13">83671</tspan><tspan class="l3" x="510.5" dy="13">57.65%</tspan></text>
<text class="lb" x="750.5" y="76"><tspan class="l1">348</tspan><tspan class="l2" x="750.5" dy="13">85063</tspan><tspan class="l3" x="750.5" dy="13">57.65%</tspan></text>
<text class="lb" x="990.5" y="76"><tspan class="l1">274</tspan><tspan class="l2" x="990.5" dy="13">86159</tspan><tspan class="l3" x="990.5" dy="13">57.65%</tspan></text>
</g>

<g id="row21" transform="translate(0,3025.5)">
<use href="#grid4"/>
<g transform="translate(31.5,0)"><path class="s SR" d="M30 15h45M120 15h45"/><path class="s SY" d="M30 30h45"/><path class="s SB" d="M120 45h45"/>
<circle class="g" cx="0" cy="0" r="5"/><circle class="g" cx="90" cy="0" r="5"/><circle class="g" cx="180" cy="0" r="5"/>
<circle class="r" cx="0" cy="15" r="5"/><circle class="r" cx="30" cy="15" r="5"/><circle class="r" cx="90" cy="15" r="5"/><circle class="r" cx="120" cy="15" r="5"/><circle class="r" cx="180" cy="15" r="5"/><circle class="r" cx="210" cy="15" r="5"/>
<circle class="y" cx="30" cy="30" r="5"/><circle class="y" cx="210" cy="30" r="5"/><circle class="b" cx="120" cy="45" r="5"/></g>
<use href="#PHo" x="511.5"/><use href="#PI" x="751.5"/>
<text class="mn" x="32.5" y="-8">81</text><text class="mn" x="272.5" y="-8">82</text><text class="mn" x="512.5" y="-8">83</text><text class="mn" x="752.5" y="-8">84</text>
<text class="lb" x="270.5" y="76"><tspan class="l1">336</tspan><tspan class="l2" x="270.5" dy="13">87503</tspan><tspan class="l3" x="270.5" dy="13">57.65%</tspan></text>
<text class="lb" x="510.5" y="76"><tspan class="l1">0</tspan><tspan class="l2" x="510.5" dy="13">87503</tspan><tspan class="l3" x="510.5" dy="13">57.65%</tspan></text>
<text class="lb" x="750.5" y="76"><tspan class="l1">171</tspan><tspan class="l2" x="750.5" dy="13">88187</tspan><tspan class="l3" x="750.5" dy="13">57.65%</tspan></text>
<text class="lb" x="990.5" y="76"><tspan class="l1">184</tspan><tspan class="l2" x="990.5" dy="13">88923</tspan><tspan class="l3" x="990.5" dy="13">57.65%</tspan></text>
</g>

<g id="row22" transform="translate(0,3166.5)">
<use href="#grid4"/>
<use href="#PF" x="31.5"/>
<g transform="translate(271.5,0)"><path class="s SO" d="M210 60h75"/><use href="#PGs"/><circle class="o" cx="210" cy="60" r="5"/></g>
<use href="#PH" x="511.5"/><use href="#PI" x="751.5"/>
<rect class="sp" x="301.5" y="-.5" width="150" height="61"/>
<text class="mn" x="32.5" y="-8">85</text><text class="mn" x="272.5" y="-8">86</text><text class="mn" x="512.5" y="-8">87</text><text class="mn" x="752.5" y="-8">88</text>
<text class="lb" x="270.5" y="76"><tspan class="l1">146</tspan><tspan class="l2" x="270.5" dy="13">89507</tspan><tspan class="l3" x="270.5" dy="13">57.65%</tspan></text>
<text class="lb" x="510.5" y="76"><tspan class="l1">281</tspan><tspan class="l2" x="510.5" dy="13">90631</tspan><tspan class="l3" x="510.5" dy="13">82.65%</tspan></text>
<text class="lb" x="750.5" y="76"><tspan class="l1">146</tspan><tspan class="l2" x="750.5" dy="13">91215</tspan><tspan class="l3" x="750.5" dy="13">82.65%</tspan></text>
<text class="lb" x="990.5" y="76"><tspan class="l1">184</tspan><tspan class="l2" x="990.5" dy="13">91951</tspan><tspan class="l3" x="990.5" dy="13">82.65%</tspan></text>
</g>

<g id="row23" transform="translate(0,3307.5)">
<rect class="gb" x="511.5" y="-10.5" width="480" height="82"/>
<use href="#grid4"/>
<use href="#PF" x="31.5"/>
<g transform="translate(271.5,0)"><use href="#PG"/><circle class="r" cx="210" cy="15" r="5"/><circle class="b" cx="210" cy="45" r="5"/></g>
<g transform="translate(511.5,0)"><path class="s SB" d="M75 45h60M210 45h45"/><path class="s SO" d="M75 60h60"/>
<circle class="b" cx="0" cy="45" r="5"/><circle class="b" cx="15" cy="45" r="5"/><circle class="o" cx="15" cy="60" r="5"/><circle class="b" cx="60" cy="45" r="5"/><circle class="b" cx="75" cy="45" r="5"/><circle class="o" cx="75" cy="60" r="5"/><circle class="b" cx="150" cy="45" r="5"/><circle class="y" cx="180" cy="30" r="5"/><circle class="b" cx="210" cy="45" r="5"/></g>
<g transform="translate(751.5,0)"><path class="s SR" d="M90 15h75"/>
<circle class="b" cx="30" cy="45" r="5"/><circle class="y" cx="60" cy="30" r="5"/><circle class="r" cx="90" cy="15" r="5"/><circle class="r" cx="180" cy="15" r="5"/><circle class="r" cx="210" cy="15" r="5"/><circle class="y" cx="225" cy="30" r="5"/></g>
<rect class="sx" x="481.5" y="-.5" width="6.5" height="61"/><rect class="od" x="488" y="-.5" width="503.5" height="61"/>
<text class="mn" x="32.5" y="-8">89</text><text class="mn" x="272.5" y="-8">90</text><text class="mn" x="512.5" y="-8">91</text><text class="mn" x="752.5" y="-8">92</text>
<text class="lb" x="270.5" y="76"><tspan class="l1">146</tspan><tspan class="l2" x="270.5" dy="13">92535</tspan><tspan class="l3" x="270.5" dy="13">82.65%</tspan></text>
<text class="lb" x="510.5" y="76"><tspan class="l1">300</tspan><tspan class="l2" x="510.5" dy="13">93935</tspan><tspan class="l3" x="510.5" dy="13">81.46%</tspan></text>
<text class="lb" x="750.5" y="76"><tspan class="l1">255</tspan><tspan class="l2" x="750.5" dy="13">95975</tspan><tspan class="l3" x="750.5" dy="13">68.96%</tspan></text>
<text class="lb" x="990.5" y="76"><tspan class="l1">168</tspan><tspan class="l2" x="990.5" dy="13">97319</tspan><tspan class="l3" x="990.5" dy="13">56.46%</tspan></text>
</g>

<g id="row24" transform="translate(0,3448.5)">
<rect class="gb" x="31.5" y="-10.5" width="960" height="82"/>
<use href="#grid4"/>
<g transform="translate(31.5,0)">
<circle class="b" cx="0" cy="45" r="5"/><circle class="y" cx="15" cy="30" r="5"/><circle class="r" cx="30" cy="15" r="5"/><circle class="g" cx="45" cy="0" r="5"/><circle class="r" cx="60" cy="15" r="5"/><circle class="y" cx="75" cy="30" r="5"/><circle class="r" cx="90" cy="15" r="5"/><circle class="g" cx="105" cy="0" r="5"/><circle class="o" cx="120" cy="60" r="5"/><circle class="b" cx="135" cy="45" r="5"/><circle class="y" cx="150" cy="30" r="5"/><circle class="r" cx="165" cy="15" r="5"/><circle class="y" cx="180" cy="30" r="5"/><circle class="b" cx="195" cy="45" r="5"/><circle class="y" cx="210" cy="30" r="5"/><circle class="r" cx="225" cy="15" r="5"/></g>
<g transform="translate(271.5,0)"><path class="s SG" d="M120 0h75"/><path class="s SR" d="M120 15h75"/><path class="s SB" d="M210 45h45"/><path class="s SO" d="M210 60h45"/>
<circle class="b" cx="0" cy="45" r="5"/><circle class="y" cx="15" cy="30" r="5"/><circle class="r" cx="30" cy="15" r="5"/><circle class="g" cx="45" cy="0" r="5"/><circle class="b" cx="60" cy="45" r="5"/><circle class="y" cx="75" cy="30" r="5"/><circle class="r" cx="90" cy="15" r="5"/><circle class="g" cx="105" cy="0" r="5"/><circle class="g" cx="120" cy="0" r="5"/><circle class="r" cx="120" cy="15" r="5"/><circle class="b" cx="210" cy="45" r="5"/><circle class="o" cx="210" cy="60" r="5"/></g>
<g transform="translate(511.5,0)">
<circle class="y" cx="30" cy="30" r="5"/><circle class="b" cx="60" cy="45" r="5"/><circle class="g" cx="90" cy="0" r="5"/><circle class="g" cx="120" cy="0" r="5"/><circle class="r" cx="120" cy="15" r="5"/><circle class="g" cx="150" cy="0" r="5"/><circle class="r" cx="150" cy="15" r="5"/><circle class="g" cx="180" cy="0" r="5"/><circle class="g" cx="210" cy="0" r="5"/><circle class="r" cx="210" cy="15" r="5"/></g>
<g transform="translate(751.5,0)"><path class="s SG" d="M90 0h45"/><path class="s SR" d="M90 15h45"/>
<circle class="r" cx="0" cy="15" r="5"/><circle class="y" cx="0" cy="30" r="5"/><circle class="y" cx="30" cy="30" r="5"/><circle class="y" cx="45" cy="30" r="5"/><circle class="b" cx="45" cy="45" r="5"/><circle class="r" cx="67.5" cy="15" r="5"/><circle class="g" cx="90" cy="0" r="5"/><circle class="r" cx="90" cy="15" r="5"/><circle class="g" cx="150" cy="0" r="5"/><circle class="r" cx="165" cy="15" r="5"/><circle class="g" cx="180" cy="0" r="5"/><circle class="r" cx="210" cy="15" r="5"/><circle class="r" cx="225" cy="15" r="5"/><circle class="y" cx="225" cy="30" r="5"/></g>
<rect class="od" x="31.5" y="-.5" width="960" height="61"/>
<text class="mn" x="32.5" y="-8">93</text><text class="mn" x="272.5" y="-8">94</text><text class="mn" x="512.5" y="-8">95</text><text class="mn" x="752.5" y="-8">96</text>
<text class="lb" x="270.5" y="76"><tspan class="l1">400</tspan><tspan class="l2" x="270.5" dy="13">100519</tspan><tspan class="l3" x="270.5" dy="13">43.96%</tspan></text>
<text class="lb" x="510.5" y="76"><tspan class="l1">342</tspan><tspan class="l2" x="510.5" dy="13">103255</tspan><tspan class="l3" x="510.5" dy="13">31.46%</tspan></text>
<text class="lb" x="750.5" y="76"><tspan class="l1">256</tspan><tspan class="l2" x="750.5" dy="13">105303</tspan><tspan class="l3" x="750.5" dy="13">18.96%</tspan></text>
<text class="lb" x="990.5" y="76"><tspan class="l1">368</tspan><tspan class="l2" x="990.5" dy="13">108247</tspan><tspan class="l3" x="990.5" dy="13">6.46%</tspan></text>
</g>

<g id="row25" transform="translate(0,3589.5)">
<rect class="gb" x="31.5" y="-10.5" width="515.5" height="82"/>
<use href="#grid3"/>
<g transform="translate(31.5,0)">
<circle class="r" cx="15" cy="15" r="5"/><circle class="y" cx="30" cy="30" r="5"/><circle class="y" cx="45" cy="30" r="5"/><circle class="b" cx="45" cy="45" r="5"/><circle class="y" cx="75" cy="30" r="5"/><circle class="b" cx="90" cy="45" r="5"/><circle class="b" cx="105" cy="45" r="5"/><circle class="o" cx="105" cy="60" r="5"/><circle class="b" cx="135" cy="45" r="5"/><circle class="r" cx="150" cy="15" r="5"/><circle class="r" cx="165" cy="15" r="5"/><circle class="y" cx="165" cy="30" r="5"/><circle class="r" cx="180" cy="15" r="5"/><circle class="b" cx="210" cy="45" r="5"/><circle class="b" cx="220" cy="45" r="5"/><circle class="o" cx="230" cy="60" r="5"/></g>
<g transform="translate(271.5,0)"><path class="s SR" d="M225 15h45"/>
<circle class="y" cx="0" cy="30" r="5"/><circle class="b" cx="7.5" cy="45" r="5"/><circle class="b" cx="17.8" cy="45" r="5"/><circle class="b" cx="28" cy="45" r="5"/><circle class="b" cx="38.2" cy="45" r="5"/><circle class="b" cx="48.5" cy="45" r="5"/>
<circle class="y" cx="60" cy="30" r="5"/><circle class="b" cx="67.5" cy="45" r="5"/><circle class="b" cx="77.8" cy="45" r="5"/><circle class="b" cx="88" cy="45" r="5"/><circle class="b" cx="98.2" cy="45" r="5"/><circle class="b" cx="108.5" cy="45" r="5"/>
<circle class="y" cx="120" cy="30" r="5"/><circle class="b" cx="127.5" cy="45" r="5"/><circle class="b" cx="137.8" cy="45" r="5"/><circle class="b" cx="148" cy="45" r="5"/><circle class="b" cx="158.2" cy="45" r="5"/><circle class="b" cx="168.5" cy="45" r="5"/>
<circle class="y" cx="180" cy="30" r="5"/><circle class="b" cx="187.5" cy="45" r="5"/><circle class="b" cx="197.8" cy="45" r="5"/><circle class="b" cx="208" cy="45" r="5"/>
<circle class="r" cx="225" cy="15" r="5"/></g>
<rect class="od" x="31.5" y="-.5" width="457" height="61"/><rect class="sx" x="488.5" y="-.5" width="7" height="61"/>
<text class="mn" x="32.5" y="-8">97</text><text class="mn" x="272.5" y="-8">98</text><text class="mn" x="512.5" y="-8">99</text>
<text class="lb" x="270.5" y="76"><tspan class="l1">400</tspan><tspan class="l2" x="270.5" dy="13">111447</tspan><tspan class="l3" x="270.5" dy="13">0.00%</tspan></text>
<text class="lb" x="510.5" y="76"><tspan class="l1">578</tspan><tspan class="l2" x="510.5" dy="13">116059</tspan><tspan class="l3" x="510.5" dy="13">0.00%</tspan></text>
<text class="lb" x="750.5" y="76"><tspan class="l1">6</tspan><tspan class="l2" x="750.5" dy="13">125283</tspan><tspan class="l3" x="750.5" dy="13">0.00%</tspan></text>
</g>
</svg>
